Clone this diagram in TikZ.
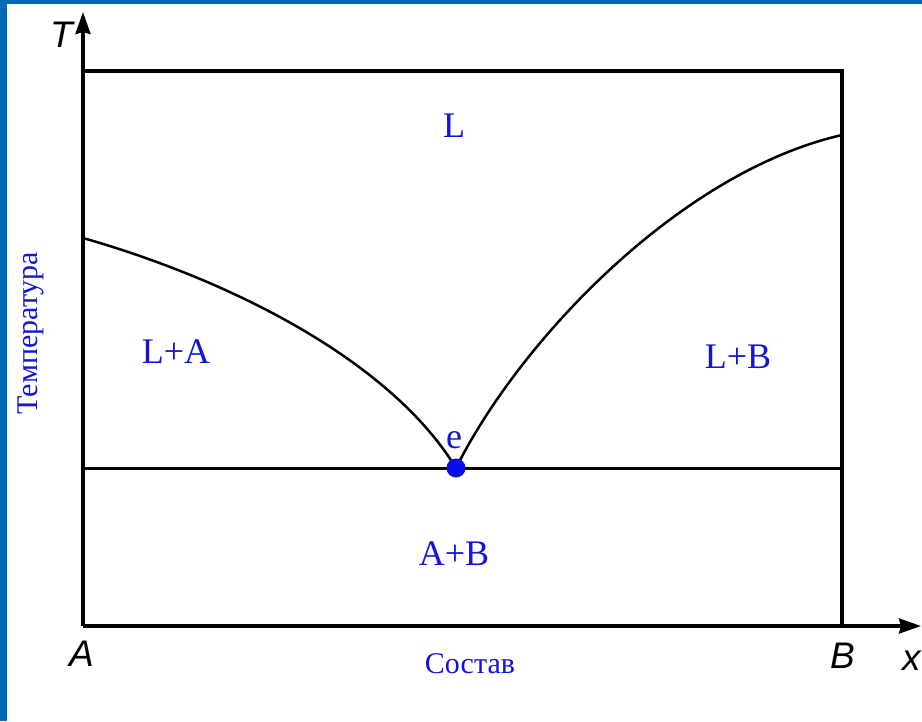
\documentclass[tikz,border=0pt]{standalone}
\usepackage{fontspec}
\setmainfont{Liberation Serif}
\newfontfamily\axisfont{Liberation Sans}
\usetikzlibrary{arrows.meta}
\definecolor{framebl}{RGB}{0,106,184}
\definecolor{labbl}{RGB}{20,20,216}
\definecolor{dotbl}{RGB}{10,10,235}
\tikzset{
  axisline/.style={line width=3.2pt, -{Stealth[length=22pt,width=15pt,inset=2pt]}},
  boxline/.style={line width=3.2pt},
  curveline/.style={line width=2.5pt},
  eutline/.style={line width=3pt},
  phaselab/.style={text=labbl, font=\fontsize{36}{39}\selectfont, anchor=base, inner sep=0pt},
  axislab/.style={font=\axisfont\itshape\fontsize{37}{40}\selectfont, anchor=base, inner sep=0pt},
  titlelab/.style={text=labbl, font=\fontsize{30}{33}\selectfont, anchor=base, inner sep=0pt}
}
\begin{document}
\begin{tikzpicture}[x=1pt,y=-1pt]
\useasboundingbox (0,0) rectangle (922,721);
\fill[white] (0,0) rectangle (922,721);
\fill[framebl] (0,0) rectangle (7,721);
\fill[framebl] (0,0) rectangle (922,4);
% coordinates
\coordinate (O) at (83,626);
\coordinate (Ttop) at (83,12);
\coordinate (Xend) at (921,626);
\coordinate (TL) at (83,71);
\coordinate (TR) at (842,71);
\coordinate (BR) at (842,626);
\coordinate (EL) at (83,468);
\coordinate (ER) at (842,468);
\coordinate (LA) at (83,238);
\coordinate (RB) at (842,135);
\coordinate (E) at (456,468);
% axes and box
\draw[axisline] (O) -- (Ttop);
\draw[axisline] (O) -- (Xend);
\draw[boxline] (TL) -- (TR) -- (BR);
\draw[eutline] (EL) -- (ER);
% liquidus curves
\draw[curveline] (LA) .. controls (230,280) and (390,360) .. (E);
\draw[curveline] (E) .. controls (520,340) and (680,172) .. (RB);
% eutectic point
\fill[dotbl] (E) circle (9.5);
% labels
\node[phaselab] (Lab) at (454,137) {L};
\node[phaselab] (LAlab) at (176,363) {L+A};
\node[phaselab] (LBlab) at (738,368) {L+B};
\node[phaselab] (ABlab) at (454,565) {A+B};
\node[phaselab] (elab) at (454,448) {e};
\node[titlelab] (xtitle) at (470,673) {Состав};
\node[titlelab, rotate=90] (ytitle) at (37,333) {Температура};
\node[axislab] (Tlab) at (62,47) {T};
\node[axislab] (Alab) at (82,666) {A};
\node[axislab] (Blab) at (843,668) {B};
\node[axislab] (xlab) at (912,670) {x};
\end{tikzpicture}
\end{document}
